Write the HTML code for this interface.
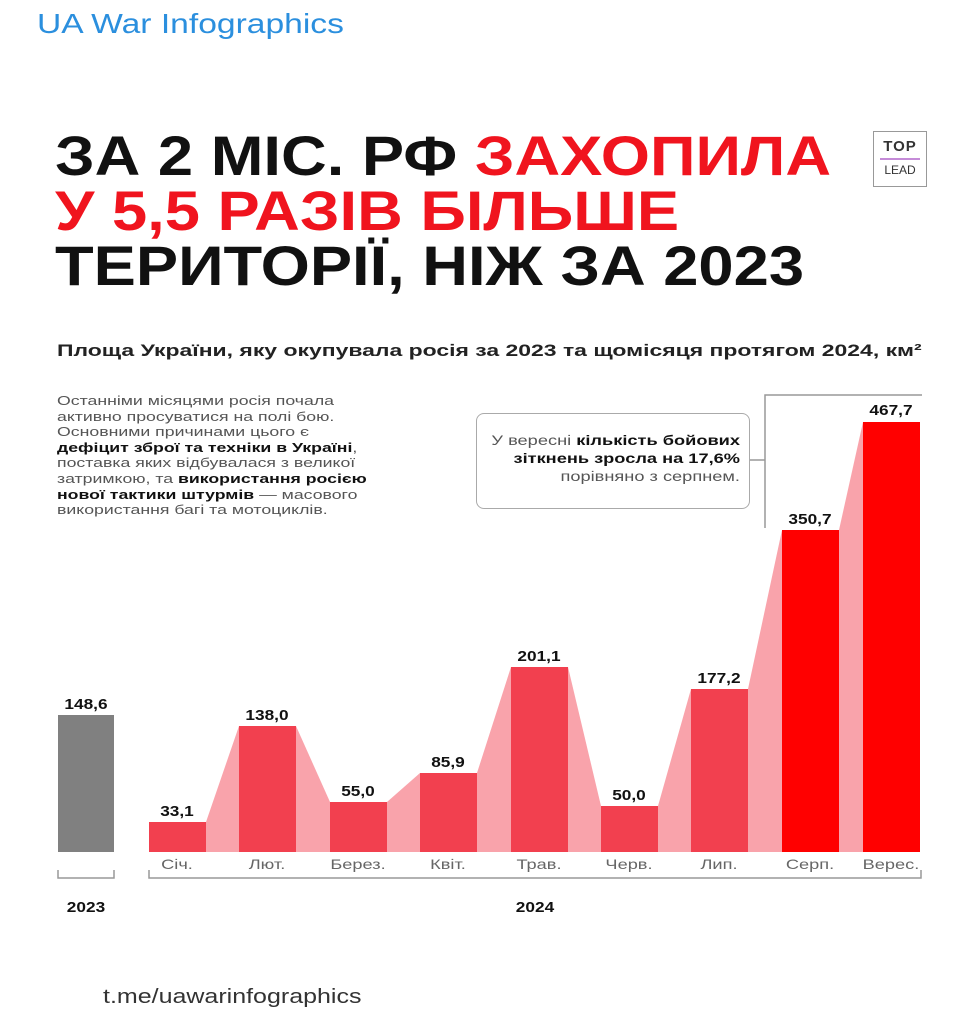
<!DOCTYPE html>
<html><head><meta charset="utf-8"><style>
body{margin:0;background:#fff;width:978px;height:1024px;overflow:hidden;font-family:"Liberation Sans","DejaVu Sans",sans-serif;position:relative}
.a{position:absolute;white-space:nowrap}
.s{transform-origin:0 0}
.t{font-weight:900;font-size:56px;line-height:55px;color:#111;transform:scaleX(1.13);transform-origin:0 0}
.r{color:#f0141e}
.v{font-weight:bold;font-size:15px;color:#111;text-align:center;width:80px;transform:scaleX(1.15)}
.m{font-size:14px;color:#666;text-align:center;width:80px;transform:scaleX(1.3)}
</style></head><body>
<div class="a s" style="left:37px;top:8px;font-size:28px;color:#2b8fde;transform:scaleX(1.2)">UA War Infographics</div>
<div class="a t" style="left:55px;top:128px">ЗА 2 МІС. РФ <span class="r">ЗАХОПИЛА</span></div>
<div class="a t r" style="left:55px;top:183px">У 5,5 РАЗІВ БІЛЬШЕ</div>
<div class="a t" style="left:55px;top:238px">ТЕРИТОРІЇ, НІЖ ЗА 2023</div>
<div class="a" style="left:873px;top:131px;width:52px;height:54px;border:1px solid #999;text-align:center;font-size:15px;color:#333;font-weight:bold">
<div style="padding-top:6px;letter-spacing:1px">TOP</div><div style="border-top:2px solid #c58bd8;margin:3px 6px"></div><div style="font-size:12px;font-weight:normal">LEAD</div></div>
<div class="a s" style="left:57px;top:341px;font-size:17px;font-weight:bold;color:#222;transform:scaleX(1.35)">Площа України, яку окупувала росія за 2023 та щомісяця протягом 2024, км²</div>
<div class="a s" style="left:57px;top:393px;font-size:13px;line-height:15.6px;color:#555;transform:scaleX(1.36)">Останніми місяцями росія почала<br>активно просуватися на полі бою.<br>Основними причинами цього є<br><b style="color:#111">дефіцит зброї та техніки в Україні</b>,<br>поставка яких відбувалася з великої<br>затримкою, та <b style="color:#111">використання росією</b><br><b style="color:#111">нової тактики штурмів</b> — масового<br>використання багі та мотоциклів.</div>
<div class="a" style="left:476px;top:413px;width:272px;height:94px;border:1.5px solid #aaa;border-radius:8px"></div>
<div class="a" style="left:400px;top:432px;width:340px;text-align:right;font-size:13.5px;line-height:18px;color:#555;transform:scaleX(1.35);transform-origin:100% 0">У вересні <b style="color:#111">кількість бойових</b><br><b style="color:#111">зіткнень зросла на 17,6%</b><br>порівняно з серпнем.</div>
<svg class="a" style="left:0;top:0" width="978" height="1024">
<g stroke="#999" stroke-width="1.5" fill="none">
<path d="M750 460H765M765 528V395H922"/>
<path d="M58 870V878H114V870"/>
<path d="M149 870V878H921V870"/>
</g>
<g fill="#f9a3ab">
<polygon points="206,822 239,726 239,852 206,852"/>
<polygon points="296,726 330,802 330,852 296,852"/>
<polygon points="387,802 420,773 420,852 387,852"/>
<polygon points="477,773 511,667 511,852 477,852"/>
<polygon points="568,667 601,806 601,852 568,852"/>
<polygon points="658,806 691,689 691,852 658,852"/>
<polygon points="748,689 782,530 782,852 748,852"/>
<polygon points="839,530 863,422 863,852 839,852"/>
</g>
<rect x="58" y="715" width="56" height="137" fill="#808080"/>
<g fill="#f2404f">
<rect x="149" y="822" width="57" height="30"/>
<rect x="239" y="726" width="57" height="126"/>
<rect x="330" y="802" width="57" height="50"/>
<rect x="420" y="773" width="57" height="79"/>
<rect x="511" y="667" width="57" height="185"/>
<rect x="601" y="806" width="57" height="46"/>
<rect x="691" y="689" width="57" height="163"/>
</g>
<g fill="#ff0000">
<rect x="782" y="530" width="57" height="322"/>
<rect x="863" y="422" width="57" height="430"/>
</g>
</svg>
<div class="a v" style="left:46px;top:696px">148,6</div>
<div class="a v" style="left:137px;top:803px">33,1</div>
<div class="a v" style="left:227px;top:707px">138,0</div>
<div class="a v" style="left:318px;top:783px">55,0</div>
<div class="a v" style="left:408px;top:754px">85,9</div>
<div class="a v" style="left:499px;top:648px">201,1</div>
<div class="a v" style="left:589px;top:787px">50,0</div>
<div class="a v" style="left:679px;top:670px">177,2</div>
<div class="a v" style="left:770px;top:511px">350,7</div>
<div class="a v" style="left:851px;top:402px">467,7</div>
<div class="a m" style="left:137px;top:856px">Січ.</div>
<div class="a m" style="left:227px;top:856px">Лют.</div>
<div class="a m" style="left:318px;top:856px">Берез.</div>
<div class="a m" style="left:408px;top:856px">Квіт.</div>
<div class="a m" style="left:499px;top:856px">Трав.</div>
<div class="a m" style="left:589px;top:856px">Черв.</div>
<div class="a m" style="left:679px;top:856px">Лип.</div>
<div class="a m" style="left:770px;top:856px">Серп.</div>
<div class="a m" style="left:851px;top:856px">Верес.</div>
<div class="a v" style="left:46px;top:899px">2023</div>
<div class="a v" style="left:495px;top:899px">2024</div>
<div class="a s" style="left:103px;top:986px;font-size:20px;color:#333;transform:scaleX(1.25)">t.me/uawarinfographics</div>
</body></html>
